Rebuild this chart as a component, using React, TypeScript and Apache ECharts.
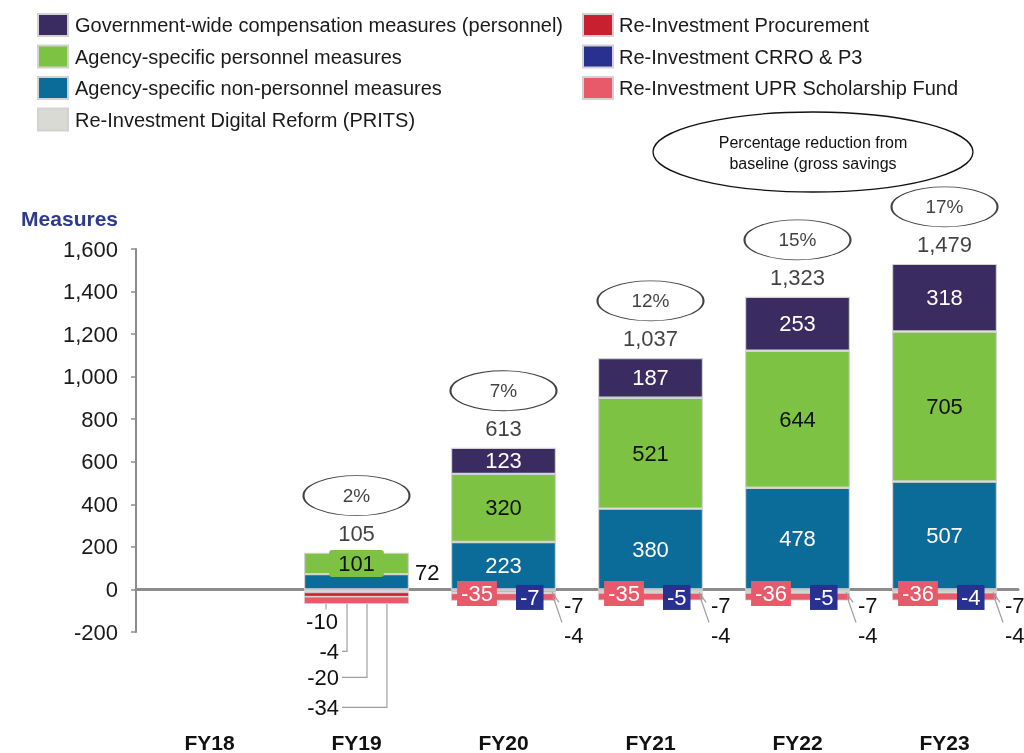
import React, { useEffect, useRef } from 'react';
import * as echarts from 'echarts';

const categories = ['FY18', 'FY19', 'FY20', 'FY21', 'FY22', 'FY23'];
const govWide = [0, 0, 123, 187, 253, 318];
const agencyPersonnel = [0, 101, 320, 521, 644, 705];
const agencyNonPersonnel = [0, 72, 223, 380, 478, 507];
const digitalReform = [0, -10, -7, -7, -7, -7];
const crro = [0, -4, -7, -5, -5, -4];
const procurement = [0, -20, -4, -4, -4, -4];
const uprScholarship = [0, -34, -35, -35, -36, -36];
const pctReduction = ['', '2%', '7%', '12%', '15%', '17%'];
const yMin = -200;
const yMax = 1600;
const yInterval = 200;

const N_GOV = 'Government-wide compensation measures (personnel)';
const N_PERS = 'Agency-specific personnel measures';
const N_NONP = 'Agency-specific non-personnel measures';
const N_PRITS = 'Re-Investment Digital Reform (PRITS)';
const N_PROC = 'Re-Investment Procurement';
const N_CRRO = 'Re-Investment CRRO & P3';
const N_UPR = 'Re-Investment UPR Scholarship Fund';

const COL = {
  gov: '#3a2c60',
  pers: '#7dc242',
  nonp: '#0b6b99',
  prits: '#d9dad3',
  proc: '#c8202f',
  crro: '#283090',
  upr: '#e85a6a',
};

const FONT = '"Liberation Sans", Arial, sans-serif';
const BAR_W = 105;

export default function App() {
  const ref = useRef<HTMLDivElement>(null);
  useEffect(() => {
    const chart = echarts.init(ref.current!, null, { renderer: 'svg' });

    const zeroPx = (fallback: number) => {
      try {
        const p: any = chart.convertToPixel({ gridIndex: 0 } as any, [0, 0]);
        if (p && isFinite(p[1])) return p[1];
      } catch (e) {}
      return fallback;
    };

    const negSets = [digitalReform, crro, procurement, uprScholarship]; // stacking order
    const posTotals = categories.map((_, i) => agencyNonPersonnel[i] + agencyPersonnel[i] + govWide[i]);
    const negSums = categories.map((_, i) => negSets.reduce((s, arr) => s + arr[i], 0));
    const netTotals = categories.map((_, i) => posTotals[i] + negSums[i]);

    const leaderData: number[][] = [];
    negSets.forEach((vals, k) =>
      vals.forEach((x, i) => {
        if (x !== 0 && (i === 1 || k === 0 || k === 2)) leaderData.push([i, k]);
      })
    );

    const itemBorder = { borderColor: '#d2d2d2', borderWidth: 1.2 };
    const numLabel = { fontSize: 22, fontFamily: FONT };
    const v = (x: number) => (x === 0 ? '-' : x);

    const posSeries = (name: string, values: number[], color: string, textColor: string, extra: any = {}) => ({
      name,
      type: 'bar',
      stack: 'total',
      barWidth: BAR_W,
      itemStyle: { color, ...itemBorder },
      label: { show: true, position: 'inside', color: textColor, ...numLabel },
      data: values.map(v),
      z: 3,
      ...extra,
    });

    const negSeries = (name: string, values: number[], color: string, k: number) => ({
      name,
      type: 'bar',
      stack: 'total',
      barWidth: BAR_W,
      itemStyle: { color, ...itemBorder, borderWidth: 0.8 },
      label: { show: true, position: 'inside', color: '#111', ...numLabel },
      data: values.map((x, i) => {
        if (x === 0) return '-';
        if (i >= 2 && (k === 1 || k === 3)) {
          return {
            value: x,
            label: { color: '#fff', backgroundColor: color, padding: [2, 4, 1, 4] },
          };
        }
        return x;
      }),
      labelLayout: (p: any) => {
        const r = p.rect;
        const z0 = zeroPx(r.y);
        const right = r.x + r.width;
        if (p.dataIndex === 1) {
          const ly = z0 + [32, 62, 88, 118][k];
          if (k === 0) {
            return { x: r.x + 18, y: ly, align: 'center', verticalAlign: 'middle' };
          }
          return { x: r.x + 35, y: ly, align: 'right', verticalAlign: 'middle' };
        }
        if (p.dataIndex >= 2) {
          if (k === 0) return { x: right + 8, y: z0 + 16, align: 'left', verticalAlign: 'middle' };
          if (k === 2) return { x: right + 8, y: z0 + 46, align: 'left', verticalAlign: 'middle' };
          if (k === 1) return { x: r.x + r.width * 0.75, y: z0 + 8, align: 'center', verticalAlign: 'middle' };
          if (k === 3) return { x: r.x + 26, y: z0 + 4, align: 'center', verticalAlign: 'middle' };
        }
        return {};
      },
      z: 3,
    });

    const ellipsePath =
      'path://M0,50 C0,22.4 22.4,0 50,0 C77.6,0 100,22.4 100,50 C100,77.6 77.6,100 50,100 C22.4,100 0,77.6 0,50 Z';

    const option: any = {
      animation: false,
      textStyle: { fontFamily: FONT },
      grid: { left: 136, right: 6, top: 249, bottom: 121, containLabel: false, outerBoundsMode: 'none' },
      legend: [
        {
          left: 32,
          top: 8,
          orient: 'vertical',
          icon: 'rect',
          itemWidth: 30,
          itemHeight: 22,
          itemGap: 7.5,
          selectedMode: false,
          data: [N_GOV, N_PERS, N_NONP, N_PRITS],
          textStyle: { fontSize: 20, color: '#1a1a1a', fontFamily: FONT, padding: [0, 0, 0, 2] },
        },
        {
          left: 577,
          top: 8,
          orient: 'vertical',
          icon: 'rect',
          itemWidth: 30,
          itemHeight: 22,
          itemGap: 7.5,
          selectedMode: false,
          data: [N_PROC, N_CRRO, N_UPR],
          textStyle: { fontSize: 20, color: '#1a1a1a', fontFamily: FONT, padding: [0, 0, 0, 1] },
        },
      ],
      xAxis: {
        type: 'category',
        data: categories,
        axisLine: { onZero: true, lineStyle: { color: '#8c8c8c', width: 3 } },
        axisTick: { show: false },
        axisLabel: {
          margin: 99,
          fontSize: 21,
          lineHeight: 22,
          fontWeight: 'bold',
          color: '#111',
          fontFamily: FONT,
        },
      },
      yAxis: {
        type: 'value',
        min: yMin,
        max: yMax,
        interval: yInterval,
        name: 'Measures',
        nameLocation: 'end',
        nameGap: 20,
        nameTextStyle: {
          fontSize: 21,
          fontWeight: 'bold',
          color: '#2e3a8c',
          align: 'right',
          padding: [0, 18, 0, 0],
          fontFamily: FONT,
        },
        axisLine: { show: true, lineStyle: { color: '#8c8c8c', width: 2 } },
        axisTick: { show: true, length: 5, lineStyle: { color: '#8c8c8c', width: 1.5 } },
        splitLine: { show: false },
        axisLabel: {
          margin: 18,
          fontSize: 22,
          color: '#1a1a1a',
          fontFamily: FONT,
          formatter: (x: number) => x.toLocaleString('en-US'),
        },
      },
      series: [
        posSeries(N_NONP, agencyNonPersonnel, COL.nonp, '#fff', {
          data: agencyNonPersonnel.map((x, i) =>
            x === 0 ? '-' : i === 1 ? { value: x, label: { color: '#111' } } : x
          ),
          labelLayout: (p: any) => {
            if (p.dataIndex !== 1) return {};
            const r = p.rect;
            return { x: r.x + r.width + 6, y: r.y - 2, align: 'left', verticalAlign: 'middle' };
          },
        }),
        posSeries(N_PERS, agencyPersonnel, COL.pers, '#111', {
          data: agencyPersonnel.map((x, i) =>
            x === 0
              ? '-'
              : i === 1
              ? { value: x, label: { backgroundColor: COL.pers, padding: [3, 9, 2, 9], borderRadius: 3 } }
              : x
          ),
        }),
        posSeries(N_GOV, govWide, COL.gov, '#fff'),
        negSeries(N_PRITS, digitalReform, COL.prits, 0),
        negSeries(N_CRRO, crro, COL.crro, 1),
        negSeries(N_PROC, procurement, COL.proc, 2),
        negSeries(N_UPR, uprScholarship, COL.upr, 3),
        {
          name: 'leaders',
          type: 'custom',
          clip: false,
          silent: true,
          data: leaderData,
          z: 4,
          renderItem: (params: any, api: any) => {
            const i = api.value(0);
            const k = api.value(1);
            const c = api.coord([i, 0]);
            const zy = c[1];
            const left = c[0] - BAR_W / 2;
            const right = c[0] + BAR_W / 2;
            let points: number[][];
            if (i === 1) {
              const bottom = api.coord([i, negSums[i]])[1];
              const lx = left + BAR_W * [0.21, 0.41, 0.6, 0.79][k];
              const ly = zy + [32, 62, 88, 118][k];
              points = k === 0 ? [[lx, bottom], [lx, ly - 12]] : [[lx, bottom], [lx, ly], [left + 38, ly]];
            } else if (k === 0) {
              points = [[right - 4, zy + 3], [right + 3, zy + 13]];
            } else {
              points = [[right - 3, zy + 7], [right + 6, zy + 33]];
            }
            return {
              type: 'polyline',
              shape: { points },
              style: { stroke: '#a0a0a0', lineWidth: 1.2, fill: null },
            };
          },
        },
        {
          name: 'totals',
          type: 'scatter',
          symbol: 'rect',
          symbolSize: 1,
          itemStyle: { color: 'rgba(0,0,0,0)' },
          data: posTotals.map((x) => (x > 0 ? x : '-')),
          label: {
            show: true,
            position: 'inside',
            offset: [0, -19],
            color: '#111',
            ...numLabel,
            formatter: (p: any) => netTotals[p.dataIndex].toLocaleString('en-US'),
          },
          z: 5,
        },
        {
          name: 'pct',
          type: 'scatter',
          symbol: ellipsePath,
          symbolSize: [106, 40],
          symbolOffset: [0, -57],
          itemStyle: { color: '#fff', borderColor: '#111', borderWidth: 1.3 },
          data: posTotals.map((x) => (x > 0 ? x : '-')),
          label: {
            show: true,
            position: 'inside',
            color: '#111',
            fontSize: 19,
            fontFamily: FONT,
            formatter: (p: any) => pctReduction[p.dataIndex],
          },
          z: 5,
        },
      ],
      graphic: [
        {
          type: 'ellipse',
          shape: { cx: 813, cy: 152, rx: 160, ry: 40 },
          style: { fill: '#fff', stroke: '#111', lineWidth: 1.3 },
          z: 10,
        },
        {
          type: 'text',
          x: 813,
          y: 153,
          style: {
            text: 'Percentage reduction from\nbaseline (gross savings',
            align: 'center',
            verticalAlign: 'middle',
            fontSize: 16,
            lineHeight: 21,
            fill: '#111',
            fontFamily: FONT,
          },
          z: 11,
        },
      ],
    };

    chart.setOption(option);
    return () => chart.dispose();
  }, []);

  return <div ref={ref} style={{ position: 'fixed', left: 0, top: 0, width: 1024, height: 753 }} />;
}
